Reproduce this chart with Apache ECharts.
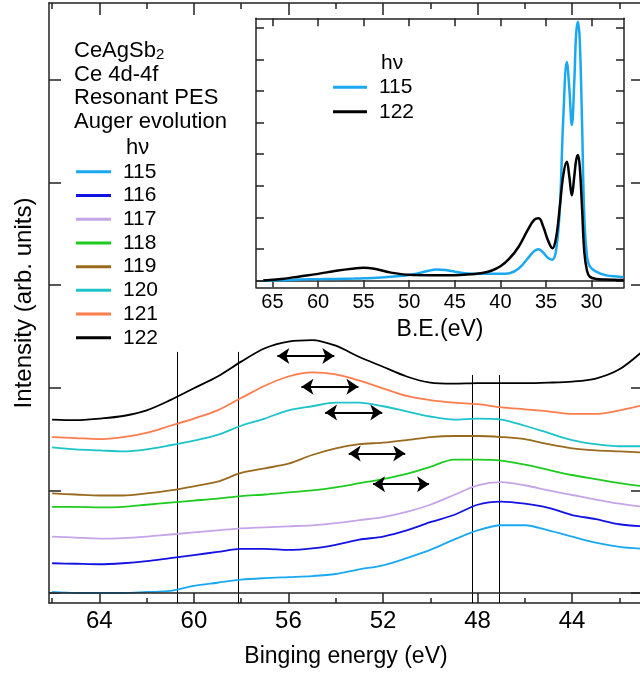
<!DOCTYPE html>
<html><head><meta charset="utf-8">
<script src="https://cdn.jsdelivr.net/npm/echarts@6/dist/echarts.min.js"></script>
<style>html,body{margin:0;padding:0;background:#fff}#c{width:640px;height:679px}</style>
</head><body><div id="c"></div>
<script>
const FONT = '"Liberation Sans", Arial, Helvetica, sans-serif';

// ---------- Main panel data ----------
const photonEnergies = ['115','116','117','118','119','120','121','122'];
const seriesColors = ['#1aa9f0','#1212e2','#c6a4e8','#1ecb1e','#996a1e','#1cc4c8','#ff7c4c','#000000'];
const bindingEnergy = [66,65,64,63,62,61,60,59,58,57,56,55,54,53,52,51,50,49,48,47,46,45,44,43,42,41];
const hv115 = [0.01,0.0,0.0,0.0,0.01,0.02,0.07,0.10,0.13,0.145,0.155,0.165,0.185,0.23,0.27,0.34,0.42,0.52,0.61,0.66,0.66,0.61,0.55,0.49,0.45,0.43];
const hv116 = [0.29,0.285,0.28,0.29,0.31,0.34,0.37,0.40,0.43,0.43,0.42,0.435,0.47,0.52,0.55,0.61,0.69,0.76,0.86,0.89,0.87,0.83,0.76,0.72,0.67,0.65];
const hv117 = [0.55,0.54,0.53,0.535,0.55,0.57,0.59,0.61,0.63,0.64,0.65,0.66,0.68,0.71,0.74,0.79,0.86,0.955,1.05,1.08,1.05,1.00,0.955,0.91,0.87,0.84];
const hv118 = [0.84,0.84,0.835,0.84,0.86,0.88,0.90,0.92,0.945,0.96,0.98,1.00,1.03,1.07,1.11,1.16,1.23,1.30,1.30,1.29,1.25,1.20,1.15,1.11,1.07,1.04];
const hv119 = [0.97,0.96,0.95,0.95,0.97,1.00,1.04,1.085,1.17,1.215,1.26,1.345,1.41,1.45,1.465,1.49,1.52,1.53,1.53,1.52,1.50,1.45,1.41,1.39,1.38,1.37];
const hv120 = [1.42,1.40,1.39,1.38,1.40,1.44,1.485,1.54,1.63,1.70,1.78,1.82,1.855,1.855,1.82,1.77,1.72,1.69,1.70,1.69,1.63,1.56,1.49,1.45,1.43,1.43];
const hv121 = [1.52,1.51,1.50,1.52,1.56,1.63,1.70,1.78,1.90,2.02,2.11,2.15,2.13,2.07,1.995,1.92,1.88,1.855,1.84,1.81,1.79,1.77,1.745,1.745,1.78,1.83];
const hv122 = [1.69,1.685,1.70,1.725,1.78,1.88,1.995,2.11,2.255,2.385,2.45,2.465,2.41,2.30,2.205,2.11,2.05,2.04,2.045,2.045,2.045,2.05,2.06,2.09,2.18,2.36];
const mainValues = [hv115, hv116, hv117, hv118, hv119, hv120, hv121, hv122];

const xMajorTicks = [64,60,56,52,48,44];
const xMinorTicks = [66,62,58,54,50,46,42];
const yTicks = [0,1,2,3,4,5];
const mainXMin = 41, mainXMax = 66.13;
const mainYMin = -0.0975, mainYMax = 5.75;

const guideEnergies = [60.7, 58.12, 48.22, 47.08];
const guideTops = [2.35, 2.35, 2.125, 2.125];

const arrowStart = [56.47, 55.45, 54.45, 53.45, 52.42];
const arrowEnd = [54.06, 53.04, 52.03, 51.06, 50.05];
const arrowLevel = [2.31, 2.01, 1.76, 1.36, 1.06];

// ---------- Inset data ----------
const insetLabels = ['115','122'];
const insetColors = ['#1aa9f0','#000000'];
const insetEnergy = [66,64,62,60,58,56,55,54,52,50,48,47,46,45,44,42,41,40,39,38,37,36.3,35.8,35.3,34.8,34.3,33.9,33.5,33.1,32.72,32.45,32.17,31.9,31.7,31.5,31.3,31.05,30.8,30.5,30.2,29.5,28.5,27,26.5];
const inset115 = [0.0,0.01,0.03,0.04,0.05,0.06,0.07,0.08,0.12,0.17,0.30,0.35,0.33,0.28,0.23,0.21,0.21,0.21,0.23,0.38,0.70,0.93,0.99,0.88,0.72,0.66,0.95,2.2,5.2,6.92,6.1,4.92,6.3,7.8,8.19,7.6,5.0,2.0,0.75,0.45,0.28,0.17,0.12,0.11];
const inset122 = [0.0,0.05,0.13,0.21,0.31,0.38,0.40,0.38,0.25,0.18,0.17,0.17,0.17,0.17,0.18,0.24,0.31,0.45,0.70,1.07,1.60,1.92,1.97,1.70,1.28,1.02,1.35,2.3,3.35,3.76,3.3,2.7,3.3,3.8,3.97,3.6,2.3,0.9,0.3,0.12,0.05,0.03,0.02,0.02];
const insetValues = [inset115, inset122];
const insetXTicks = [65,60,55,50,45,40,35,30];
const insetYTicks = [0,1,2,3,4,5,6,7,8];
const insetXMin = 26.45, insetXMax = 66.8;
const insetYMin = -0.215, insetYMax = 8.30;

// ---------- Build option ----------
const AX = {color:'#222', width:1.5};
function xAx(grid, pos, min, max, ticks, len, showLine, extra) {
  return Object.assign({
    gridIndex: grid, type:'value', position: pos, inverse: true, min, max,
    axisLine: {show: showLine, onZero: false, lineStyle: AX},
    axisTick: {show: true, inside: true, length: len, customValues: ticks, lineStyle: AX},
    axisLabel: {show: false},
    splitLine: {show: false}
  }, extra || {});
}
function yAx(grid, pos, min, max, ticks, len, extra) {
  return Object.assign({
    gridIndex: grid, type:'value', position: pos, min, max,
    axisLine: {show: true, onZero: false, lineStyle: AX},
    axisTick: {show: true, inside: true, length: len, customValues: ticks, lineStyle: AX},
    axisLabel: {show: false},
    splitLine: {show: false}
  }, extra || {});
}

const series = [];
photonEnergies.forEach((name, i) => {
  const s = {
    type:'line', name, xAxisIndex:0, yAxisIndex:0,
    data: bindingEnergy.map((x, j) => [x, mainValues[i][j]]),
    smooth: 0.3, symbol:'none', showSymbol:false,
    lineStyle:{color: seriesColors[i], width: 1.8},
    itemStyle:{color: seriesColors[i]}, z: 3
  };
  if (i === 0) {
    s.markLine = {silent:true, symbol:'none', label:{show:false},
      lineStyle:{color:'#222', type:'solid', width:1.5}, data:[{yAxis:0}]};
  }
  series.push(s);
});
series.push({
  type:'lines', coordinateSystem:'cartesian2d', xAxisIndex:0, yAxisIndex:0, silent:true,
  data: guideEnergies.map((x, i) => ({coords:[[x, mainYMin],[x, guideTops[i]]]})),
  lineStyle:{color:'#000', width:1, opacity:1}, symbol:'none', z: 2
});
series.push({
  type:'lines', coordinateSystem:'cartesian2d', xAxisIndex:0, yAxisIndex:0, silent:true,
  data: arrowLevel.map((y, i) => ({coords:[[arrowStart[i], y],[arrowEnd[i], y]]})),
  lineStyle:{color:'#000', width:2, opacity:1}, symbol:['arrow','arrow'], symbolSize: 12, z: 4
});
insetLabels.forEach((name, i) => {
  const s = {
    type:'line', name, xAxisIndex:4, yAxisIndex:2,
    data: insetEnergy.map((x, j) => [x, insetValues[i][j]]),
    smooth: 0.4, symbol:'none', showSymbol:false,
    lineStyle:{color: insetColors[i], width: 2.5},
    itemStyle:{color: insetColors[i]}, z: 6
  };
  if (i === 0) {
    s.markLine = {silent:true, symbol:'none', label:{show:false},
      lineStyle:{color:'#222', type:'solid', width:1.5}, data:[{yAxis:0}]};
  }
  series.push(s);
});

const option = {
  animation: false,
  backgroundColor: '#fff',
  textStyle: {fontFamily: FONT},
  title: [
    {text:'CeAgSb{s|2}\nCe 4d-4f\nResonant PES\nAuger evolution', left:74, top:39, padding:0,
     textStyle:{fontSize:22, fontWeight:'normal', color:'#000', lineHeight:23.7, fontFamily:FONT,
       rich:{s:{fontSize:15, lineHeight:12, verticalAlign:'bottom', color:'#000', fontFamily:FONT}}}},
    {text:'hν', left:126, top:137, padding:0,
     textStyle:{fontSize:22, fontWeight:'normal', color:'#000', fontFamily:FONT}},
    {text:'hν', left:381, top:53, padding:0,
     textStyle:{fontSize:21, fontWeight:'normal', color:'#000', fontFamily:FONT}}
  ],
  legend: [
    {data: photonEnergies, orient:'vertical', left:76, top:160, padding:0,
     icon:'rect', itemWidth:35, itemHeight:3, itemGap:0, selectedMode:false,
     textStyle:{fontSize:21, lineHeight:23.7, color:'#000', fontFamily:FONT, padding:[0,0,0,7]}},
    {data: insetLabels, orient:'vertical', left:333, top:75, padding:0,
     icon:'rect', itemWidth:34, itemHeight:3, itemGap:0, selectedMode:false,
     textStyle:{fontSize:21, lineHeight:24.5, color:'#000', fontFamily:FONT, padding:[0,0,0,7]}}
  ],
  grid: [
    {left:49, top:3, width:594, height:600, show:false, containLabel:false, outerBoundsMode:'none'},
    {left:256, top:18.3, width:368, height:269, show:true, backgroundColor:'#fff', borderWidth:0, z:4,
     containLabel:false, outerBoundsMode:'none'}
  ],
  xAxis: [
    xAx(0,'bottom',mainXMin,mainXMax,xMajorTicks,10,true,{
      axisLabel:{show:true, customValues:xMajorTicks, fontSize:24, color:'#000', fontFamily:FONT, margin:6},
      name:'Binging energy (eV)', nameLocation:'middle', nameGap:42,
      nameTextStyle:{fontSize:23, color:'#000', fontFamily:FONT}}),
    xAx(0,'bottom',mainXMin,mainXMax,xMinorTicks,5,false),
    xAx(0,'top',mainXMin,mainXMax,xMajorTicks,12,true),
    xAx(0,'top',mainXMin,mainXMax,xMinorTicks,6,false),
    xAx(1,'bottom',insetXMin,insetXMax,insetXTicks,7,true,{
      axisLabel:{show:true, customValues:insetXTicks, fontSize:20, color:'#000', fontFamily:FONT, margin:5},
      name:'B.E.(eV)', nameLocation:'middle', nameGap:31,
      nameTextStyle:{fontSize:23, color:'#000', fontFamily:FONT}, z:5}),
    xAx(1,'top',insetXMin,insetXMax,insetXTicks,8,true,{z:5})
  ],
  yAxis: [
    yAx(0,'left',mainYMin,mainYMax,yTicks,12,{
      name:'Intensity (arb. units)', nameLocation:'middle', nameGap:13,
      nameTextStyle:{fontSize:24, color:'#000', fontFamily:FONT}}),
    yAx(0,'right',mainYMin,mainYMax,yTicks,12),
    yAx(1,'left',insetYMin,insetYMax,insetYTicks,8,{z:5}),
    yAx(1,'right',insetYMin,insetYMax,insetYTicks,8,{z:5})
  ],
  series
};

const chart = echarts.init(document.getElementById('c'), null, {renderer:'canvas'});
chart.setOption(option);
</script>
</body></html>
